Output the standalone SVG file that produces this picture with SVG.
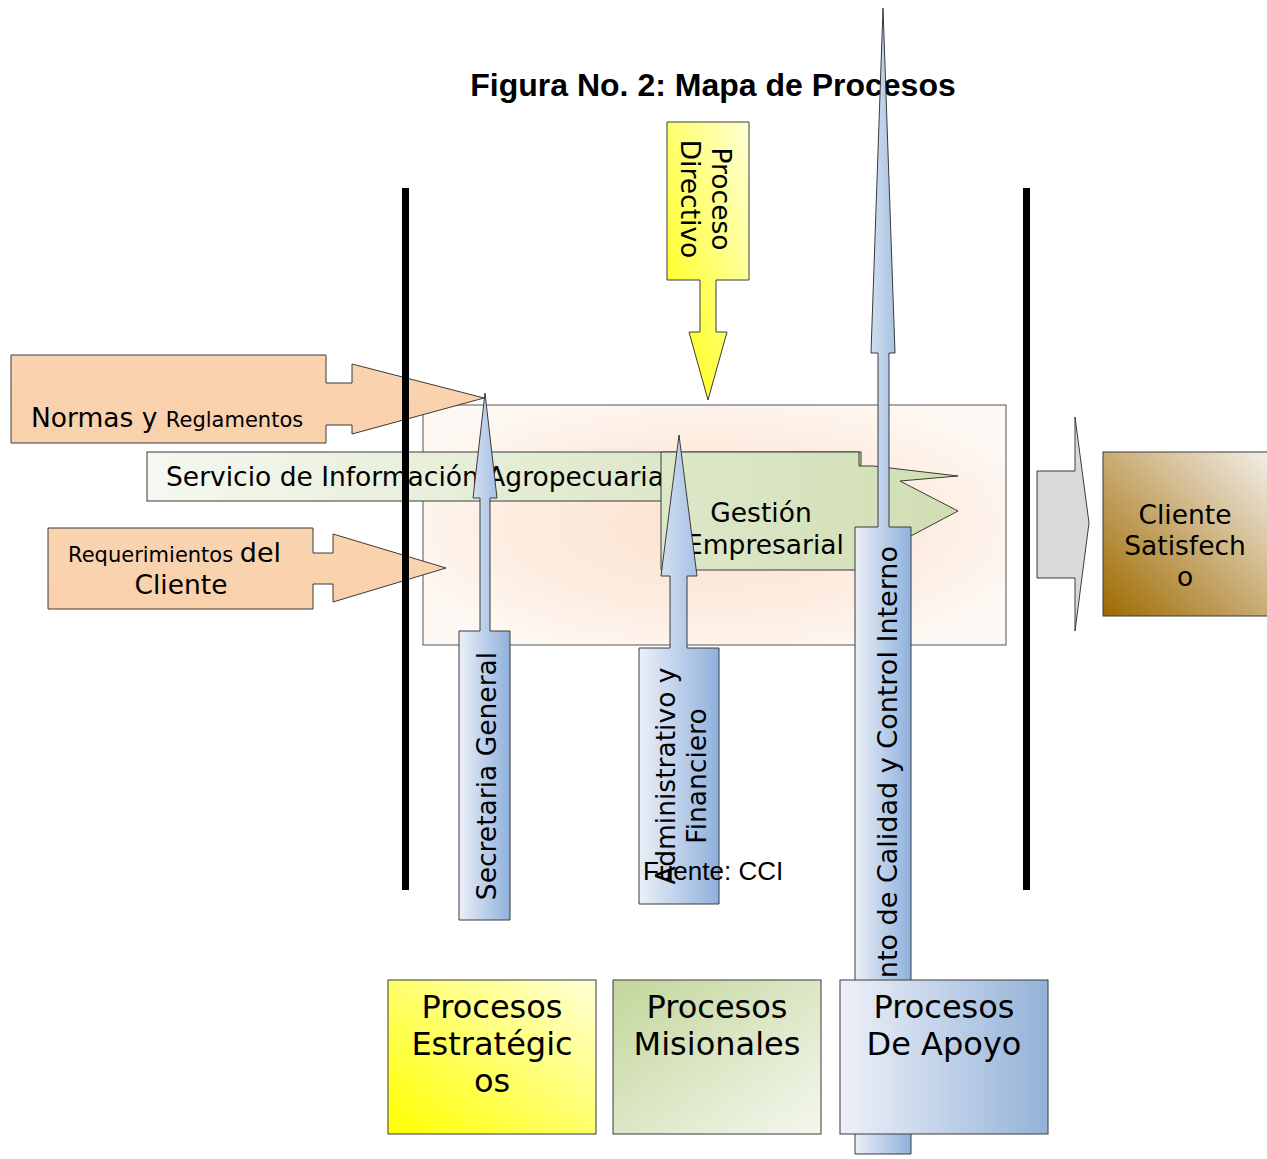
<svg xmlns="http://www.w3.org/2000/svg" width="1267" height="1159" viewBox="0 0 1267 1159">
<defs>
<style>
.t{font-family:"DejaVu Sans","Noto Sans",sans-serif;font-size:26.5px;fill:#000}
.big{font-size:32px}
.sh{stroke:#3a3a3a;stroke-width:1}
.bar{fill:#000}
</style>
<radialGradient id="gCenter" cx="0.5" cy="0.5" r="0.6">
<stop offset="0" stop-color="#fce2cf"/>
<stop offset="0.6" stop-color="#fdede1"/>
<stop offset="1" stop-color="#fef9f5"/>
</radialGradient>
<linearGradient id="gPeach" x1="0" y1="0" x2="0" y2="1">
<stop offset="0" stop-color="#fad3b0"/>
<stop offset="1" stop-color="#f9d1ac"/>
</linearGradient>
<linearGradient id="gGreenH" gradientUnits="userSpaceOnUse" x1="147" y1="0" x2="958" y2="0">
<stop offset="0" stop-color="#f5f8f0"/>
<stop offset="1" stop-color="#d0deb3"/>
</linearGradient>
<linearGradient id="gYellowBox" x1="1" y1="0" x2="0" y2="1">
<stop offset="0" stop-color="#ffffd8"/>
<stop offset="1" stop-color="#ffff00"/>
</linearGradient>
<linearGradient id="gBlue" x1="0" y1="0" x2="1" y2="0">
<stop offset="0" stop-color="#ebf0f8"/>
<stop offset="1" stop-color="#8fb0dc"/>
</linearGradient>
<linearGradient id="gMision" x1="0" y1="0" x2="1" y2="1">
<stop offset="0" stop-color="#c3d69b"/>
<stop offset="1" stop-color="#f4f7ee"/>
</linearGradient>
<linearGradient id="gApoyo" x1="0" y1="0" x2="1" y2="0">
<stop offset="0" stop-color="#eef1f8"/>
<stop offset="1" stop-color="#93b2d8"/>
</linearGradient>
<linearGradient id="gBrown" x1="0" y1="1" x2="1" y2="0">
<stop offset="0" stop-color="#9e6a00"/>
<stop offset="1" stop-color="#f3eee8"/>
</linearGradient>
</defs>

<rect width="1267" height="1159" fill="#fff"/>

<g id="title">
<text x="713" y="96" text-anchor="middle" style="font-family:'Liberation Sans',Arial,sans-serif;font-weight:bold;font-size:32px">Figura No. 2: Mapa de Procesos</text>
</g>

<g id="central-area">
<rect x="423" y="405" width="583" height="240" fill="url(#gCenter)" stroke="#555" stroke-width="1"/>
</g>

<g id="normas">
<path class="sh" fill="url(#gPeach)" d="M11,355 H326 V383 H352 V364 L484,398 L352,434 V425 H326 V443 H11 Z"/>
<text class="t" x="31" y="427">Normas y <tspan style="font-size:21px">Reglamentos</tspan></text>
</g>

<g id="requerimientos">
<path class="sh" fill="url(#gPeach)" d="M48,528 H313 V553 H333 V534 L446,568 L333,602 V584 H313 V609 H48 Z"/>
<text class="t" x="68" y="562"><tspan style="font-size:21px">Requerimientos </tspan><tspan style="font-size:27px">del</tspan></text>
<text class="t" x="181" y="594" text-anchor="middle">Cliente</text>
</g>

<g id="servicio">
<rect class="sh" x="147" y="452" width="714" height="49" fill="url(#gGreenH)"/>
<text class="t" x="166" y="486">Servicio de Información Agropecuaria</text>
</g>

<g id="gestion">
<path class="sh" fill="url(#gGreenH)" d="M661,452 H859 V466 H873 L958,476 L900,481 L958,511 L873,556 V570 H661 Z"/>
<text class="t" x="761" y="522" text-anchor="middle">Gestión</text>
<text class="t" x="765" y="554" text-anchor="middle">Empresarial</text>
</g>

<g id="boundaries">
<rect class="bar" x="402" y="188" width="7" height="702"/>
<rect class="bar" x="1023" y="188" width="7" height="702"/>
</g>

<g id="proceso-directivo">
<path class="sh" fill="url(#gYellowBox)" d="M667,122 H749 V280 H716 V332 H727 L708,400 L689,332 H700 V280 H667 Z"/>
<g transform="translate(708,199) rotate(90)">
<text class="t" x="0" y="-4" text-anchor="middle">Proceso</text>
<text class="t" x="0" y="27" text-anchor="middle">Directivo</text>
</g>
</g>

<g id="secretaria-general">
<path class="sh" fill="url(#gBlue)" d="M459,920 V631 H480 V498 H473 L485,393 L497,498 H490 V631 H510 V920 Z"/>
<text class="t" transform="translate(496,776) rotate(-90)" x="0" y="0" text-anchor="middle">Secretaria General</text>
</g>

<g id="administrativo">
<path class="sh" fill="url(#gBlue)" d="M639,904 V648 H670 V576 H661 L679,435 L697,576 H687 V648 H719 V904 Z"/>
<g transform="translate(706,776) rotate(-90)">
<text class="t" x="0" y="-31" text-anchor="middle">Administrativo y</text>
<text class="t" x="0" y="0" text-anchor="middle">Financiero</text>
</g>
</g>

<g id="calidad">
<path class="sh" fill="url(#gBlue)" d="M855,1154 V527 H878 V353 H871 L883,8 L895,353 H889 V527 H911 V1154 Z"/>
<text class="t" transform="translate(897,546) rotate(-90)" x="0" y="0" text-anchor="end" style="font-size:27px">nto de Calidad y Control Interno</text>
</g>

<g id="fuente">
<text x="643" y="880" style="font-family:'Liberation Sans',Arial,sans-serif;font-size:26px">Fuente: CCI</text>
</g>

<g id="procesos-estrategicos">
<rect class="sh" x="388" y="980" width="208" height="154" fill="url(#gYellowBox)"/>
<text class="t big" x="492" y="1018" text-anchor="middle">Procesos</text>
<text class="t big" x="492" y="1055" text-anchor="middle">Estratégic</text>
<text class="t big" x="492" y="1092" text-anchor="middle">os</text>
</g>

<g id="procesos-misionales">
<rect class="sh" x="613" y="980" width="208" height="154" fill="url(#gMision)"/>
<text class="t big" x="717" y="1018" text-anchor="middle">Procesos</text>
<text class="t big" x="717" y="1055" text-anchor="middle">Misionales</text>
</g>

<g id="procesos-apoyo">
<rect class="sh" x="840" y="980" width="208" height="154" fill="url(#gApoyo)"/>
<text class="t big" x="944" y="1018" text-anchor="middle">Procesos</text>
<text class="t big" x="944" y="1055" text-anchor="middle">De Apoyo</text>
</g>

<g id="connectors">
<path class="sh" fill="#d9d9d9" d="M1037,471 H1075 V417 L1089,523 L1075,631 V578 H1037 Z"/>
</g>

<g id="cliente-satisfecho">
<rect class="sh" x="1103" y="452" width="166" height="164" fill="url(#gBrown)"/>
<text class="t" x="1185" y="524" text-anchor="middle">Cliente</text>
<text class="t" x="1185" y="555" text-anchor="middle">Satisfech</text>
<text class="t" x="1185" y="586" text-anchor="middle">o</text>
</g>
</svg>
